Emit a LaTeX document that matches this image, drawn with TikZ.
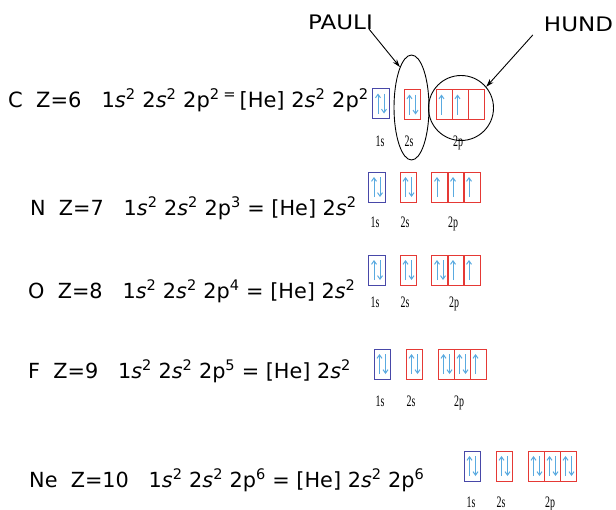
\documentclass[tikz,border=0pt]{standalone}
\usepackage{fontspec}
\setmainfont{DejaVu Sans}
\newfontfamily\lblfont{Liberation Serif}
\usetikzlibrary{arrows.meta,shapes.geometric}
\definecolor{spinblue}{HTML}{5AAAE0}
\definecolor{boxred}{HTML}{E53935}
\definecolor{boxblue}{HTML}{4848A8}
\newcommand\sps[1]{\textsuperscript{#1}}
\newcommand\rowfont{\fontsize{20.8}{22}\selectfont}
\newcommand\rowfontC{\fontsize{21}{22}\selectfont}
\newcommand\lbl[1]{\scalebox{0.62}[1]{\lblfont\fontsize{16}{16}\selectfont #1}}
\newcommand\annt[1]{\scalebox{1.15}[1]{#1}}
\newcommand\spinup[1]{\draw[spin] ([shift={(-3,10)}]#1.center) -- ([shift={(-3,-10)}]#1.center);}
\newcommand\spindn[1]{\draw[spin] ([shift={(3,-10)}]#1.center) -- ([shift={(3,10)}]#1.center);}
\newcommand\spinpair[1]{\spinup{#1}\spindn{#1}}
\tikzset{
  orb/.style={draw=boxred, line width=0.9pt, minimum width=16.5pt, minimum height=30pt, inner sep=0pt},
  orbs/.style={orb, draw=boxblue},
  spin/.style={draw=spinblue, line width=1pt, -{Straight Barb[length=3.5pt,width=5pt]}},
  ptr/.style={draw=black, line width=0.9pt, -{Stealth[length=8pt,width=5pt]}},
  row/.style={anchor=base west, inner sep=0pt, font=\rowfont},
  lab/.style={anchor=base, inner sep=0pt},
  ann/.style={anchor=base, inner sep=0pt, font=\fontsize{20}{21}\selectfont}
}
\begin{document}
\begin{tikzpicture}[x=1pt,y=-1pt]
\useasboundingbox (0,0) rectangle (616,509);
% ---------- C ----------
\node[row, font=\rowfontC] (tC) at (8,107) {C\ \ Z=6\ \ \ 1\textit{s}\sps{2} 2\textit{s}\sps{2} 2p\sps{2}\,\sps{=}\,[He] 2\textit{s}\sps{2} 2p\sps{2}};
\node[orbs] (C1s) at (381,103.5) {};
\node[orb] (C2s) at (412.5,104.5) {};
\node[orb] (C2pa) at (444.5,104.5) {};
\node[orb] (C2pb) at (460.5,104.5) {};
\node[orb] (C2pc) at (476.5,104.5) {};
\spinpair{C1s}\spinpair{C2s}\spinup{C2pa}\spinup{C2pb}
\node[lab] (lC1) at (380,146) {\lbl{1s}};
\node[lab] (lC2) at (409,146) {\lbl{2s}};
\node[lab] (lC3) at (458,146) {\lbl{2p}};
\node[draw, ellipse, line width=0.9pt, minimum width=35pt, minimum height=105pt, inner sep=0pt] (pauliE) at (411.5,107.5) {};
\node[draw, circle, line width=0.9pt, minimum size=65pt, inner sep=0pt] (hundC) at (461,108) {};
\node[ann] (pauli) at (340.5,29) {\annt{PAULI}};
\node[ann] (hund) at (578.5,31) {\annt{HUND}};
\draw[ptr] ([shift={(-4,0)}]pauli.base east) -- (pauliE.106);
\draw[ptr] ([shift={(-11,4)}]hund.base west) -- (hundC.40);
% ---------- N ----------
\begin{scope}
\clip (0,150) rectangle (358,235);
\node[row] (tN) at (30,215) {N\ \ Z=7\ \ \ 1\textit{s}\sps{2} 2\textit{s}\sps{2} 2p\sps{3} = [He] 2\textit{s}\sps{2}};
\end{scope}
\node[orbs] (N1s) at (377,187) {};
\node[orb] (N2s) at (408.5,187) {};
\node[orb] (N2pa) at (440,187) {};
\node[orb] (N2pb) at (456,187) {};
\node[orb] (N2pc) at (472,187) {};
\spinpair{N1s}\spinpair{N2s}\spinup{N2pa}\spinup{N2pb}\spinup{N2pc}
\node[lab] (lN1) at (375,227) {\lbl{1s}};
\node[lab] (lN2) at (405,227) {\lbl{2s}};
\node[lab] (lN3) at (453,227) {\lbl{2p}};
% ---------- O ----------
\begin{scope}
\clip (0,240) rectangle (353,320);
\node[row] (tO) at (28,298) {O\ \ Z=8\ \ \ 1\textit{s}\sps{2} 2\textit{s}\sps{2} 2p\sps{4} = [He] 2\textit{s}\sps{2}};
\end{scope}
\node[orbs] (O1s) at (377,270) {};
\node[orb] (O2s) at (408.5,270) {};
\node[orb] (O2pa) at (440,270) {};
\node[orb] (O2pb) at (456,270) {};
\node[orb] (O2pc) at (472,270) {};
\spinpair{O1s}\spinpair{O2s}\spinpair{O2pa}\spinup{O2pb}\spinup{O2pc}
\node[lab] (lO1) at (375,307) {\lbl{1s}};
\node[lab] (lO2) at (405,307) {\lbl{2s}};
\node[lab] (lO3) at (454,307) {\lbl{2p}};
% ---------- F ----------
\begin{scope}
\clip (0,330) rectangle (365,400);
\node[row] (tF) at (28,378) {F\ \ Z=9\ \ \ 1\textit{s}\sps{2} 2\textit{s}\sps{2} 2p\sps{5} = [He] 2\textit{s}\sps{2}};
\end{scope}
\node[orbs] (F1s) at (382.5,364) {};
\node[orb] (F2s) at (414.5,364) {};
\node[orb] (F2pa) at (446.5,364) {};
\node[orb] (F2pb) at (462.5,364) {};
\node[orb] (F2pc) at (478.5,364) {};
\spinpair{F1s}\spinpair{F2s}\spinpair{F2pa}\spinpair{F2pb}\spinup{F2pc}
\node[lab] (lF1) at (380,406) {\lbl{1s}};
\node[lab] (lF2) at (411,406) {\lbl{2s}};
\node[lab] (lF3) at (459,406) {\lbl{2p}};
% ---------- Ne ----------
\node[row] (tNe) at (29,487) {Ne\ \ Z=10\ \ \ 1\textit{s}\sps{2} 2\textit{s}\sps{2} 2p\sps{6} = [He] 2\textit{s}\sps{2} 2p\sps{6}};
\node[orbs] (Ne1s) at (472.5,466) {};
\node[orb] (Ne2s) at (504.5,466) {};
\node[orb] (Ne2pa) at (536.5,466) {};
\node[orb] (Ne2pb) at (552.5,466) {};
\node[orb] (Ne2pc) at (568.5,466) {};
\spinpair{Ne1s}\spinpair{Ne2s}\spinpair{Ne2pa}\spinpair{Ne2pb}\spinpair{Ne2pc}
\node[lab] (lNe1) at (471,507) {\lbl{1s}};
\node[lab] (lNe2) at (501,507) {\lbl{2s}};
\node[lab] (lNe3) at (550,507) {\lbl{2p}};
\end{tikzpicture}
\end{document}
